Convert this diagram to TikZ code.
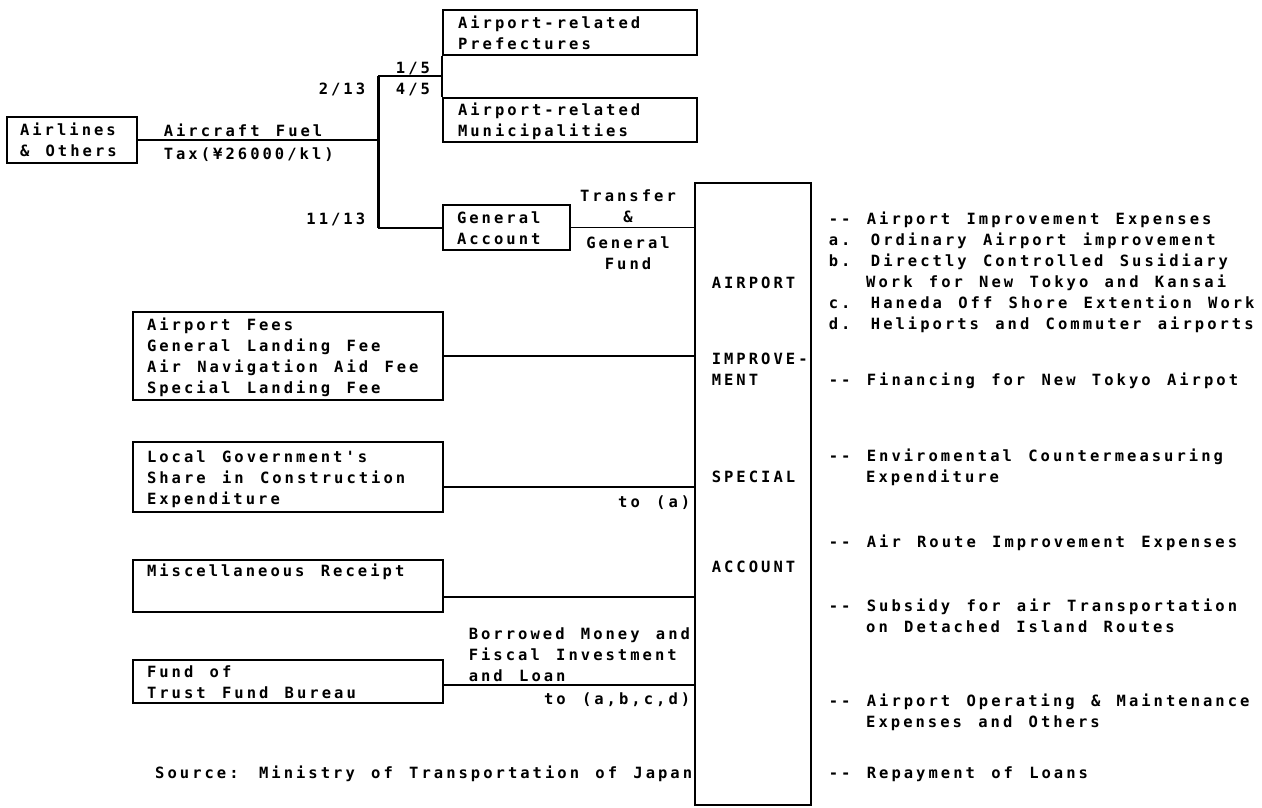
\documentclass[tikz,border=0pt]{standalone}
\usepackage{fontspec}
\newfontfamily\dotfont[LetterSpace=19.5,WordSpace=1.32,Ligatures=TeXOff]{DejaVu Sans Mono}
\newcommand{\dotsize}{\fontsize{15.5pt}{21pt}\selectfont}
\newcommand{\rowstrut}{\rule[-4.5pt]{0pt}{21pt}}
\newcommand{\firstrow}[2]{\makebox[#1][l]{\rowstrut #2}}
\newcommand{\indcol}{\hspace*{37.4pt}}
\usetikzlibrary{positioning,calc}

\begin{document}
\begin{tikzpicture}[x=1pt,y=-1pt,line width=1.6pt]
	\tikzstyle{fbox}=[draw,line width=2pt,inner ysep=0pt,align=left,font=\dotfont\bfseries\dotsize]
	\tikzstyle{lbl}=[inner sep=0pt,font=\dotfont\bfseries\dotsize]
	\useasboundingbox (0,0) rectangle (1262,807);
	\fill[white] (0,0) rectangle (1262,807);

	\node[fbox,inner xsep=13pt,minimum width=130pt,minimum height=46pt] (airlines) at (72,140) {\firstrow{104pt}{Airlines}\\\& Others\rowstrut};
	\node[fbox,inner xsep=15pt,minimum width=254pt,minimum height=45pt] (pref) at (570,32.5) {\firstrow{224pt}{Airport-related}\\Prefectures\rowstrut};
	\node[fbox,inner xsep=15pt,minimum width=254pt,minimum height=44pt] (muni) at (570,120) {\firstrow{224pt}{Airport-related}\\Municipalities\rowstrut};
	\node[fbox,inner xsep=14pt,minimum width=127pt,minimum height=45pt] (genacc) at (506.5,227.5) {\firstrow{99pt}{General}\\Account\rowstrut};
	\node[fbox,inner xsep=14pt,minimum width=310pt,minimum height=88pt] (fees) at (288,356) {\firstrow{282pt}{Airport Fees}\\General Landing Fee\\Air Navigation Aid Fee\\Special Landing Fee\rowstrut};
	\node[fbox,inner xsep=14pt,minimum width=310pt,minimum height=70pt] (local) at (288,477) {\firstrow{282pt}{Local Government's}\\Share in Construction\\Expenditure\rowstrut};
	\node[fbox,inner xsep=14pt,minimum width=310pt,minimum height=52pt] (misc) at (288,586) {\firstrow{282pt}{Miscellaneous Receipt}\\[10pt]\rowstrut};
	\node[fbox,inner xsep=14pt,minimum width=310pt,minimum height=43pt] (fund) at (288,681.5) {\firstrow{282pt}{Fund of}\\Trust Fund Bureau\rowstrut};
	\node[fbox,minimum width=116pt,minimum height=622pt] (acct) at (753,494) {};

	\foreach \name/\y/\txt in {airport/271.15/AIRPORT, improve/347.15/{IMPROVE-\\MENT}, special/465.15/SPECIAL, account/555.15/ACCOUNT}
		\node[lbl,anchor=north west,align=left] (\name) at (711,\y) {\rowstrut\txt};

	\foreach \name/\y/\txt in {
		impexp/207.15/{-- Airport Improvement Expenses\\a. Ordinary Airport improvement\\b. Directly Controlled Susidiary\\\indcol Work for New Tokyo and Kansai\\c. Haneda Off Shore Extention Work\\d. Heliports and Commuter airports},
		finance/368.15/{-- Financing for New Tokyo Airpot},
		enviro/444.15/{-- Enviromental Countermeasuring\\\indcol Expenditure},
		route/530.15/{-- Air Route Improvement Expenses},
		subsidy/594.15/{-- Subsidy for air Transportation\\\indcol on Detached Island Routes},
		operate/689.15/{-- Airport Operating \& Maintenance\\\indcol Expenses and Others},
		repay/761.15/{-- Repayment of Loans}}
		\node[lbl,anchor=north west,align=left] (\name) at (828,\y) {\rowstrut\txt};

	\node[lbl,anchor=north west] (fuel) at (163,119.15) {\rowstrut Aircraft Fuel};
	\node[lbl,anchor=north west] (tax) at (163,142.15) {\rowstrut Tax(¥26000/kl)};
	\node[lbl,anchor=north east] (frac2) at (366,77.15) {\rowstrut 2/13};
	\node[lbl,anchor=north east] (frac11) at (366,207.15) {\rowstrut 11/13};
	\node[lbl,anchor=north] (frac1) at (413,56.15) {\rowstrut 1/5};
	\node[lbl,anchor=north] (frac4) at (413,77.15) {\rowstrut 4/5};
	\node[lbl,anchor=north,align=center] (transfer) at (628,184.15) {\rowstrut Transfer\\\&};
	\node[lbl,anchor=north,align=center] (genfund) at (628,231.15) {\rowstrut General\\Fund};
	\node[lbl,anchor=north east] (toa) at (691,490.15) {\rowstrut to (a)};
	\node[lbl,anchor=north west,align=left] (borrow) at (468,622) {\rowstrut Borrowed Money and\\Fiscal Investment\\and Loan};
	\node[lbl,anchor=north east] (toabcd) at (691,687.15) {\rowstrut to (a,b,c,d)};
	\node[lbl,anchor=north east] (source) at (693,761.15) {\rowstrut Source: Ministry of Transportation of Japan};

	\coordinate (split) at (378,140);
	\coordinate (splittop) at (378,76);
	\coordinate (splitbot) at (378,228);
	\draw (airlines.east) -- (split);
	\draw[line width=3pt] (splittop) -- (splitbot);
	\draw (splittop) -- (splittop -| pref.west);
	\draw[line width=2pt] (pref.south west) -- (muni.north west);
	\draw (splitbot) -- (splitbot -| genacc.west);
	\draw (genacc.east) -- (genacc.east -| acct.west);
	\draw (fees.east) -- (fees.east -| acct.west);
	\draw ([yshift=-10pt]local.east) -- ([yshift=-10pt]local.east -| acct.west);
	\draw ([yshift=-11pt]misc.east) -- ([yshift=-11pt]misc.east -| acct.west);
	\draw ([yshift=-3.5pt]fund.east) -- ([yshift=-3.5pt]fund.east -| acct.west);
\end{tikzpicture}
\end{document}
